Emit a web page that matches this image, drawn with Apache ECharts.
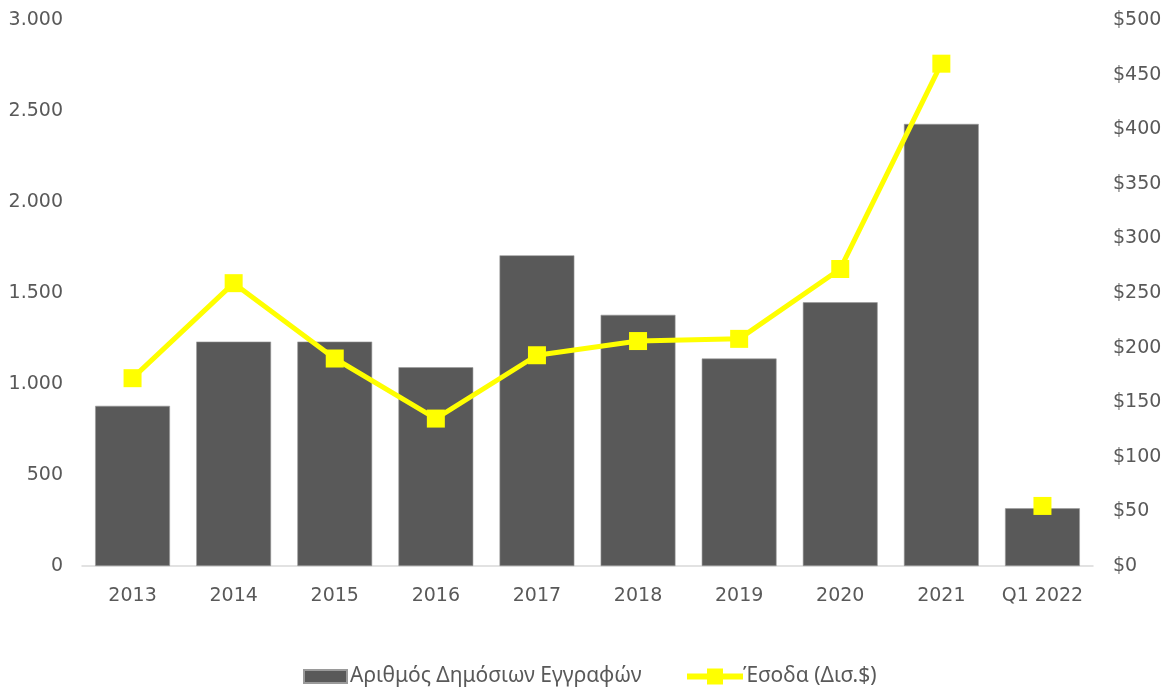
<!DOCTYPE html>
<html><head><meta charset="utf-8">
<script src="https://cdn.jsdelivr.net/npm/echarts@6/dist/echarts.min.js"></script>
<style>html,body{margin:0;padding:0;background:#fff}#c{width:1165px;height:689px}</style>
</head><body><div id="c"></div>
<script>
const categories = ['2013','2014','2015','2016','2017','2018','2019','2020','2021','Q1 2022'];
const filings = [880, 1233, 1233, 1092, 1707, 1380, 1140, 1449, 2429, 317];
const revenue = [172, 259, 190, 135, 193, 206, 208, 272, 460, 55];
const barName = 'Αριθμός Δημόσιων Εγγραφών';
const lineName = 'Έσοδα (Δισ.$)';

// line connects 2013..2021; Q1 2022 shown as a standalone marker
const lineMain = revenue.map((v, i) => i < categories.length - 1 ? v : '-');
const lineQ1 = revenue.map((v, i) => i === categories.length - 1 ? v : '-');

const fmtGr = v => String(v).replace(/\B(?=(\d{3})+(?!\d))/g, '.');
const YELLOW = '#FFFF00';
const labelStyle = {color: '#595959', fontFamily: 'DejaVu Sans, sans-serif', fontSize: 19};
const legendText = {color: '#595959', fontFamily: 'Noto Sans, sans-serif', fontSize: 21, padding: [0, 0, 0, -2]};

const chart = echarts.init(document.getElementById('c'));
chart.setOption({
  animation: false,
  grid: {left: 82, right: 72, top: 20, bottom: 123},
  legend: [
    {
      left: 303, top: 666, padding: 0,
      itemWidth: 43, itemHeight: 13,
      textStyle: legendText,
      data: [{name: barName, icon: 'rect'}]
    },
    {
      left: 684, top: 666, padding: 0,
      itemWidth: 56, itemHeight: 20,
      textStyle: Object.assign({}, legendText, {padding: [0, 0, 0, -5]}),
      lineStyle: {width: 6},
      data: [{name: lineName}]
    }
  ],
  xAxis: {
    type: 'category', data: categories,
    axisLine: {lineStyle: {color: '#d9d9d9', width: 1.5}},
    axisTick: {show: false},
    axisLabel: Object.assign({margin: 21, interval: 0}, labelStyle)
  },
  yAxis: [
    {
      type: 'value', min: 0, max: 3000, interval: 500,
      splitLine: {show: false}, axisLine: {show: false}, axisTick: {show: false},
      axisLabel: Object.assign({margin: 19, formatter: fmtGr}, labelStyle)
    },
    {
      type: 'value', min: 0, max: 500, interval: 50,
      splitLine: {show: false}, axisLine: {show: false}, axisTick: {show: false},
      axisLabel: Object.assign({margin: 20, formatter: v => '$' + v}, labelStyle)
    }
  ],
  series: [
    {
      name: barName, type: 'bar', data: filings, yAxisIndex: 0,
      barCategoryGap: '26%',
      itemStyle: {color: '#595959', borderColor: '#9a9a9a', borderWidth: 0.6}
    },
    {
      name: lineName, type: 'line', data: lineMain, yAxisIndex: 1,
      symbol: 'rect', symbolSize: 18,
      lineStyle: {color: YELLOW, width: 5},
      itemStyle: {color: YELLOW},
      z: 5
    },
    {
      name: lineName, type: 'line', data: lineQ1, yAxisIndex: 1,
      symbol: 'rect', symbolSize: 18, showAllSymbol: true,
      lineStyle: {color: YELLOW, width: 5},
      itemStyle: {color: YELLOW},
      z: 5
    }
  ]
});
</script></body></html>
